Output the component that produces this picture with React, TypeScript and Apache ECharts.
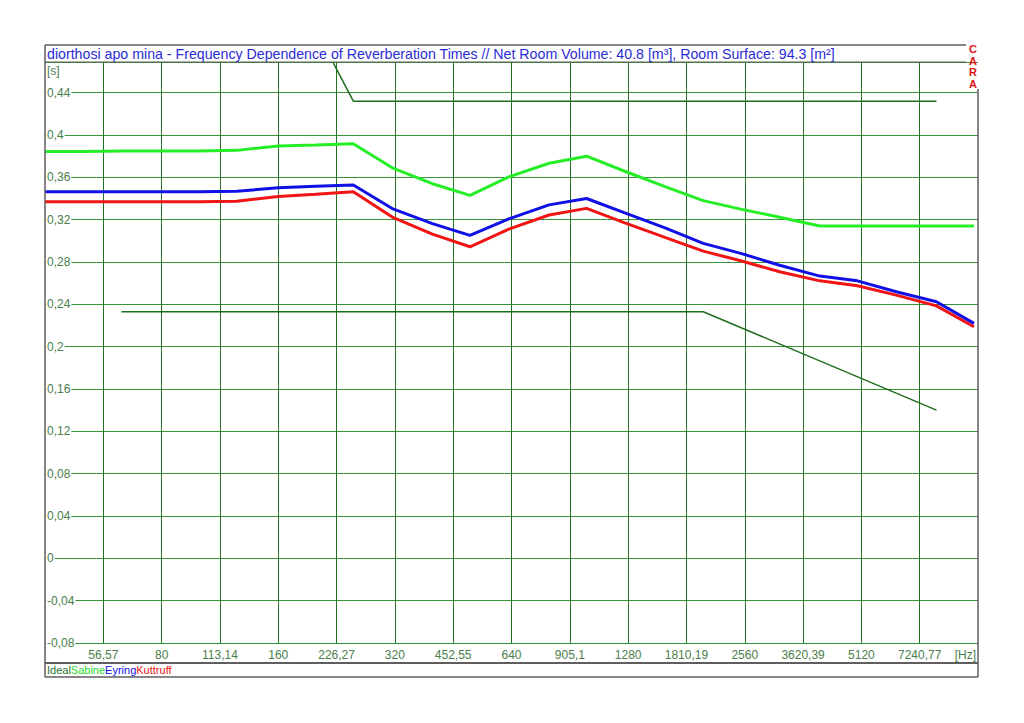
import React, { useEffect, useRef } from 'react';
import * as echarts from 'echarts';

// Third-octave band centre frequencies (Hz)
const freqs = [40, 50, 63, 80, 100, 125, 160, 200, 250, 315, 400, 500, 630, 800, 1000, 1250, 1600, 2000, 2500, 3150, 4000, 5000, 6300, 8000, 10000];

// Reverberation times (s)
const sabine = [0.3845, 0.3845, 0.385, 0.385, 0.385, 0.3855, 0.3897, 0.3905, 0.3918, 0.369, 0.354, 0.343, 0.3605, 0.3733, 0.38, 0.366, 0.351, 0.338, 0.33, 0.3223, 0.314, 0.314, 0.314, 0.314, 0.314];
const eyring = [0.3465, 0.3465, 0.3465, 0.3465, 0.3465, 0.3468, 0.3502, 0.3515, 0.3528, 0.3305, 0.3163, 0.3052, 0.3208, 0.334, 0.34, 0.3266, 0.312, 0.2976, 0.2882, 0.2769, 0.2667, 0.2622, 0.2519, 0.2424, 0.222];
const kuttruff = [0.337, 0.337, 0.337, 0.337, 0.337, 0.3375, 0.342, 0.344, 0.3464, 0.3225, 0.3064, 0.2944, 0.3111, 0.3244, 0.3307, 0.3173, 0.303, 0.2903, 0.2812, 0.2708, 0.2622, 0.2575, 0.2487, 0.2386, 0.2188];

// Ideal tolerance band
const idealUpperFreqs = [63, 250, 8000];
const idealUpper = [0.85, 0.432, 0.432];
const idealLowerFreqs = [63, 2000, 8000];
const idealLower = [0.233, 0.233, 0.14];

// Axis ticks
const tickFreqs = [56.57, 80, 113.14, 160, 226.27, 320, 452.55, 640, 905.1, 1280, 1810.19, 2560, 3620.39, 5120, 7240.77];
const tickLabels = ['56,57', '80', '113,14', '160', '226,27', '320', '452,55', '640', '905,1', '1280', '1810,19', '2560', '3620,39', '5120', '7240,77'];

const titleText = 'diorthosi apo mina - Frequency Dependence of Reverberation Times // Net Room Volume: 40.8 [m³], Room Surface: 94.3 [m²]';
const logoLetters = ['C', 'A', 'R', 'A'];

const FONT = '"Liberation Sans", Arial, sans-serif';
const labelColor = '#4a7e4a';
const frameColor = '#5e5e5e';

function pairs(xs: number[], ys: number[]) {
  return xs.map((x, i) => [x, ys[i]]);
}

export default function App() {
  const ref = useRef<HTMLDivElement>(null);
  useEffect(() => {
    const chart = echarts.init(ref.current as HTMLDivElement, null, { renderer: 'svg' });
    const frameLine = (x1: number, y1: number, x2: number, y2: number, w = 1.5) => ({
      type: 'line',
      silent: true,
      z: 100,
      shape: { x1, y1, x2, y2 },
      style: { stroke: frameColor, lineWidth: w },
    });
    const logo = logoLetters.map((ch, i) => ({
      type: 'text',
      silent: true,
      z: 101,
      x: 973,
      y: 49.3 + i * 11.4,
      style: { text: ch, fill: '#e01515', font: `bold 11px ${FONT}`, align: 'center', verticalAlign: 'middle' },
    }));
    chart.setOption({
      animation: false,
      backgroundColor: '#ffffff',
      grid: { left: 45, right: 46, top: 62, bottom: 80, containLabel: false, outerBoundsMode: 'none' },
      xAxis: {
        type: 'log',
        logBase: 2,
        min: 40,
        max: 10240,
        axisLine: { show: false },
        axisTick: { show: false, customValues: tickFreqs },
        axisLabel: {
          customValues: tickFreqs,
          margin: 6,
          color: labelColor,
          fontSize: 12,
          fontFamily: FONT,
          formatter: (v: number) => {
            let best = -1;
            let bd = Infinity;
            tickFreqs.forEach((f, i) => {
              const d = Math.abs(Math.log(f) - Math.log(v));
              if (d < bd) { bd = d; best = i; }
            });
            return bd < 0.02 ? tickLabels[best] : '';
          },
        },
        splitLine: { show: true, lineStyle: { color: '#237223', width: 1 } },
      },
      yAxis: {
        type: 'value',
        min: -0.08,
        max: 0.469,
        interval: 0.04,
        axisLine: { show: false },
        axisTick: { show: false },
        axisLabel: {
          inside: true,
          margin: 1,
          color: labelColor,
          fontSize: 12,
          fontFamily: FONT,
          backgroundColor: '#ffffff',
          padding: [0, 1, 0, 1],
          showMaxLabel: false,
          formatter: (v: number) => (v > 0.45 ? '' : String(Math.round(v * 100) / 100).replace('.', ',')),
        },
        splitLine: { show: true, lineStyle: { color: '#389238', width: 1 } },
      },
      series: [
        { name: 'Ideal', type: 'line', data: pairs(idealUpperFreqs, idealUpper), symbol: 'none', lineStyle: { color: '#1f6e1f', width: 1.5 }, z: 3 },
        { name: 'Ideal', type: 'line', data: pairs(idealLowerFreqs, idealLower), symbol: 'none', lineStyle: { color: '#1f6e1f', width: 1.5 }, z: 3 },
        { name: 'Kuttruff', type: 'line', data: pairs(freqs, kuttruff), symbol: 'none', lineStyle: { color: '#f01414', width: 3 }, z: 4 },
        { name: 'Eyring', type: 'line', data: pairs(freqs, eyring), symbol: 'none', lineStyle: { color: '#1010e6', width: 3 }, z: 5 },
        { name: 'Sabine', type: 'line', data: pairs(freqs, sabine), symbol: 'none', lineStyle: { color: '#26ee26', width: 3 }, z: 6 },
      ],
      graphic: [
        { type: 'rect', silent: true, z: 99, shape: { x: 45, y: 45, width: 933, height: 17 }, style: { fill: '#ffffff' } },
        frameLine(45, 45, 966, 45),
        frameLine(45, 45, 45, 677),
        frameLine(45, 677, 978, 677),
        frameLine(978, 89, 978, 677),
        frameLine(45, 62, 966, 62, 1),
        frameLine(45, 663, 978, 663, 2),
        {
          type: 'text', silent: true, z: 101, x: 47, y: 53.5,
          style: { text: titleText, fill: '#2b2bd6', font: `14.2px ${FONT}`, align: 'left', verticalAlign: 'middle' },
        },
        ...logo,
        {
          type: 'text', silent: true, z: 101, x: 47, y: 71,
          style: { text: '[s]', fill: labelColor, font: `12px ${FONT}`, align: 'left', verticalAlign: 'middle' },
        },
        {
          type: 'text', silent: true, z: 101, x: 976, y: 655,
          style: { text: '[Hz]', fill: labelColor, font: `12px ${FONT}`, align: 'right', verticalAlign: 'middle' },
        },
        {
          type: 'text', silent: true, z: 101, x: 47, y: 670,
          style: {
            text: '{a|Ideal}{b|Sabine}{c|Eyring}{d|Kuttruff}',
            font: `11px ${FONT}`,
            align: 'left',
            verticalAlign: 'middle',
            rich: {
              a: { fill: '#1f6e1f', font: `11px ${FONT}` },
              b: { fill: '#26d826', font: `11px ${FONT}` },
              c: { fill: '#1010e6', font: `11px ${FONT}` },
              d: { fill: '#f01414', font: `11px ${FONT}` },
            },
          },
        },
      ],
    });
    return () => chart.dispose();
  }, []);
  return (
    <div
      ref={ref}
      style={{ position: 'fixed', left: 0, top: 0, width: 1024, height: 723, background: '#ffffff' }}
    />
  );
}
